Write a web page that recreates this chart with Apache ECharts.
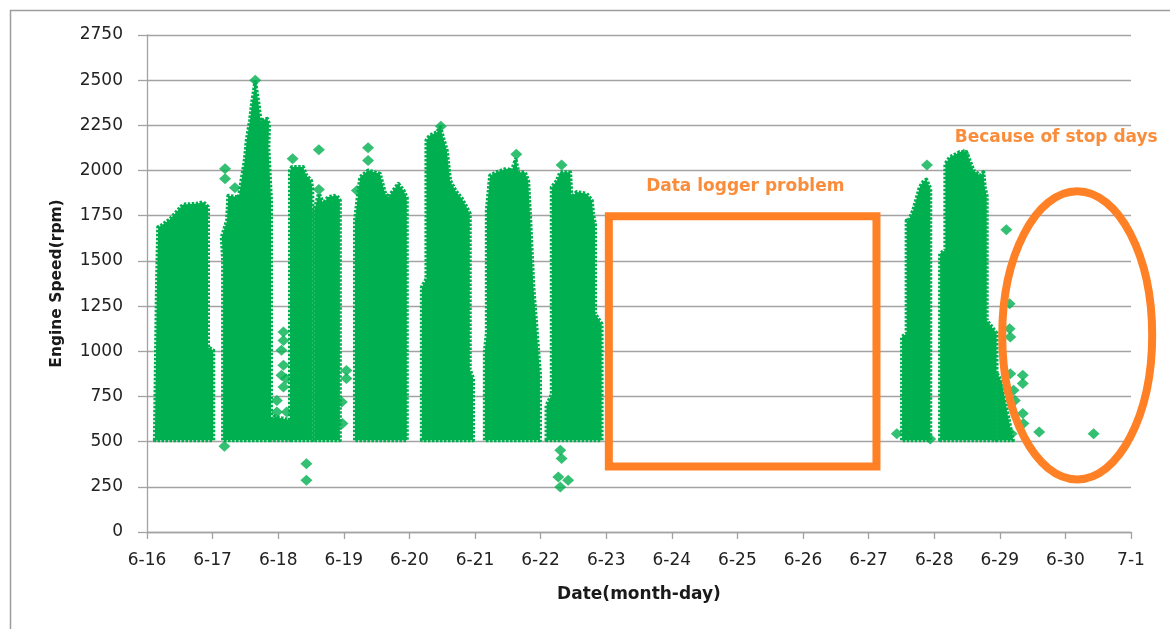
<!DOCTYPE html>
<html>
<head>
<meta charset="utf-8">
<script src="https://cdn.jsdelivr.net/npm/echarts@6/dist/echarts.min.js"></script>
<style>
  html, body { margin: 0; padding: 0; background: #ffffff; }
  #chart { width: 1170px; height: 629px; }
</style>
</head>
<body>
<div id="chart"></div>
<script>
// x values are June day numbers (31 = July 1); y values are engine speed in rpm.
const tickLabels = ['6-16', '6-17', '6-18', '6-19', '6-20', '6-21', '6-22', '6-23',
                    '6-24', '6-25', '6-26', '6-27', '6-28', '6-29', '6-30', '7-1'];

// Dense logging periods: outline of each cloud of readings, [day, rpm]
const cloudJun16 = [[16.12,507],[16.15,1320],[16.17,1687],[16.22,1696],[16.35,1730],[16.55,1812],[16.75,1816],[16.86,1825],[16.93,1798],[16.93,1023],[17.01,1005],[17.01,507]];
const cloudJun17 = [[17.16,507],[17.16,1503],[17.14,1632],[17.22,1724],[17.24,1860],[17.40,1853],[17.49,2056],[17.52,2167],[17.57,2277],[17.60,2370],[17.65,2489],[17.70,2370],[17.73,2277],[17.83,2286],[17.86,2259],[17.85,2129],[17.89,1835],[17.89,507]];
const idleJun18 = [[17.89,507],[17.89,620],[17.95,640],[18.05,630],[18.18,620],[18.18,507]];
const cloudJun18a = [[18.18,507],[18.18,2000],[18.21,2019],[18.38,2019],[18.43,1973],[18.50,1945],[18.52,1900],[18.52,507]];
const cloudJun18b = [[18.55,507],[18.55,1780],[18.62,1872],[18.69,1816],[18.76,1853],[18.89,1862],[18.94,1835],[18.94,507]];
const cloudJun19 = [[19.17,507],[19.17,1724],[19.25,1964],[19.37,2000],[19.55,1982],[19.63,1872],[19.68,1853],[19.83,1927],[19.91,1890],[19.96,1850],[19.96,507]];
const cloudJun20 = [[20.19,507],[20.19,1355],[20.26,1400],[20.26,2167],[20.31,2194],[20.42,2212],[20.47,2240],[20.50,2200],[20.57,2111],[20.62,1945],[20.70,1890],[20.80,1844],[20.87,1798],[20.92,1761],[20.92,900],[20.97,850],[20.97,507]];
const cloudJun21 = [[21.15,507],[21.15,1000],[21.18,1100],[21.18,1780],[21.23,1973],[21.33,1991],[21.48,2010],[21.56,2000],[21.62,2060],[21.66,1991],[21.76,1991],[21.81,1945],[21.84,1742],[21.89,1355],[21.99,876],[21.99,507]];
const cloudJun22 = [[22.09,507],[22.09,700],[22.17,760],[22.17,1908],[22.25,1945],[22.30,1991],[22.45,1991],[22.47,1853],[22.55,1881],[22.70,1872],[22.78,1835],[22.80,1761],[22.83,1700],[22.83,1208],[22.93,1150],[22.93,507]];
const cloudJun27 = [[27.51,507],[27.51,1079],[27.58,1100],[27.58,1724],[27.61,1724],[27.68,1779],[27.78,1908],[27.83,1936],[27.88,1950],[27.94,1900],[27.94,507]];
const cloudJun28 = [[28.09,507],[28.09,1540],[28.17,1560],[28.17,2037],[28.24,2074],[28.39,2102],[28.49,2102],[28.60,2000],[28.70,1973],[28.75,1991],[28.77,1908],[28.80,1860],[28.80,1171],[28.95,1100],[28.95,507]];
const idleJun29 = [[28.95,507],[28.95,880],[29.03,830],[29.12,650],[29.20,507]];

const clouds = [cloudJun16, cloudJun17, idleJun18, cloudJun18a, cloudJun18b, cloudJun19,
                cloudJun20, cloudJun21, cloudJun22, cloudJun27, cloudJun28, idleJun29];

// Isolated readings outside the dense clouds, [day, rpm]
const sparseReadings = [
  [17.19,2010],[17.19,1955],[17.34,1905],[17.18,474],[17.65,2500],
  [18.08,1106],[18.08,1060],[18.05,1005],[18.08,922],[18.05,867],[18.12,848],[18.08,802],
  [17.98,728],[17.98,664],[18.13,664],[18.03,600],
  [18.22,2065],[18.43,378],[18.43,286],
  [18.62,2115],[18.62,1895],
  [18.97,720],[18.98,600],[19.04,894],[19.04,850],
  [19.20,1890],[19.37,2126],[19.37,2056],
  [20.48,2245],
  [21.63,2090],
  [22.32,2030],[22.30,452],[22.32,406],[22.27,304],[22.42,286],[22.30,249],
  [27.43,544],[27.89,2030],[27.94,515],
  [28.45,2090],
  [29.10,1673],[29.15,1263],[29.15,1125],[29.16,1079],[29.35,867],[29.35,821],[29.16,876],
  [29.21,784],[29.23,728],[29.35,655],[29.36,600],[29.60,553],[30.43,544],[29.18,544]
];

// Annotation anchors in data units
const loggerBox = { days: [23.04, 27.12], rpm: [363, 1747] };
const loggerNote = { text: 'Data logger problem', at: [25.12, 1912] };
const stopEllipse = { center: [30.18, 1088], radius: [1.143, 797] };
const stopNote = { text: 'Because of stop days', at: [29.86, 2185] };

const GREEN = '#00B050';
const ORANGE = '#FF8025';
const NOTE_ORANGE = '#F98D3C';
const GRID_GRAY = '#A3A3A3';
const FONT = '"DejaVu Sans", Verdana, sans-serif';

const chart = echarts.init(document.getElementById('chart'), null, { renderer: 'canvas' });

chart.setOption({
  animation: false,
  backgroundColor: '#ffffff',
  graphic: [{
    type: 'rect',
    shape: { x: 10.5, y: 10.5, width: 1400, height: 800 },
    style: { fill: 'none', stroke: '#9d9d9d', lineWidth: 1.5 },
    silent: true, z: -10
  }],
  grid: { left: 147, right: 39, top: 35, bottom: 97 },
  xAxis: {
    type: 'value', min: 16, max: 31, interval: 1,
    name: 'Date(month-day)', nameLocation: 'middle', nameGap: 54,
    nameTextStyle: { fontFamily: FONT, fontWeight: 'bold', fontSize: 17, color: '#1a1a1a' },
    axisLine: { show: true, lineStyle: { color: GRID_GRAY, width: 1.3 } },
    axisTick: { show: true, length: 7, lineStyle: { color: GRID_GRAY, width: 1.3 } },
    axisLabel: {
      margin: 20, fontFamily: FONT, fontSize: 17, color: '#222222',
      formatter: v => tickLabels[Math.round(v) - 16]
    },
    splitLine: { show: false }
  },
  yAxis: {
    type: 'value', min: 0, max: 2750, interval: 250,
    name: 'Engine Speed(rpm)', nameLocation: 'middle', nameGap: 82, nameRotate: 90,
    nameTextStyle: { fontFamily: FONT, fontWeight: 'bold', fontSize: 15.5, color: '#1a1a1a' },
    axisLine: { show: true, lineStyle: { color: GRID_GRAY, width: 1.3 } },
    axisTick: { show: true, inside: false, length: 9, lineStyle: { color: GRID_GRAY, width: 1.3 } },
    axisLabel: {
      margin: 24, fontFamily: FONT, fontSize: 17, color: '#222222',
      formatter: v => String(v)
    },
    splitLine: { show: true, lineStyle: { color: GRID_GRAY, width: 1.3 } }
  },
  series: [
    {
      // dense readings drawn as filled clouds
      type: 'custom',
      z: 2,
      clip: true,
      silent: true,
      data: clouds.map(c => c[0]),
      renderItem: (params, api) => {
        const outline = clouds[params.dataIndex].map(p => api.coord(p));
        return {
          type: 'polygon',
          shape: { points: outline },
          style: { fill: GREEN, stroke: GREEN, lineWidth: 4, lineDash: [2.5, 1.5], lineJoin: 'round' }
        };
      }
    },
    {
      type: 'scatter',
      z: 3,
      symbol: 'diamond',
      symbolSize: [12, 11],
      itemStyle: { color: GREEN },
      silent: true,
      data: sparseReadings
    },
    {
      // annotation shapes and notes
      type: 'custom',
      z: 5,
      clip: false,
      silent: true,
      data: [[23, 500]],
      renderItem: (params, api) => {
        const tl = api.coord([loggerBox.days[0], loggerBox.rpm[1]]);
        const br = api.coord([loggerBox.days[1], loggerBox.rpm[0]]);
        const c = api.coord(stopEllipse.center);
        const r = api.size(stopEllipse.radius);
        const n1 = api.coord(loggerNote.at);
        const n2 = api.coord(stopNote.at);
        const noteFont = 'bold 17px ' + FONT;
        return {
          type: 'group',
          children: [
            {
              type: 'rect',
              shape: { x: tl[0], y: tl[1], width: br[0] - tl[0], height: br[1] - tl[1] },
              style: { fill: 'none', stroke: ORANGE, lineWidth: 8 }
            },
            {
              type: 'ellipse',
              shape: { cx: c[0], cy: c[1], rx: r[0], ry: r[1] },
              style: { fill: 'none', stroke: ORANGE, lineWidth: 8 }
            },
            {
              type: 'text',
              style: { text: loggerNote.text, x: n1[0], y: n1[1], fill: NOTE_ORANGE, font: noteFont, align: 'center', verticalAlign: 'middle' }
            },
            {
              type: 'text',
              style: { text: stopNote.text, x: n2[0], y: n2[1], fill: NOTE_ORANGE, font: noteFont, align: 'center', verticalAlign: 'middle' }
            }
          ]
        };
      }
    }
  ]
});
</script>
</body>
</html>
